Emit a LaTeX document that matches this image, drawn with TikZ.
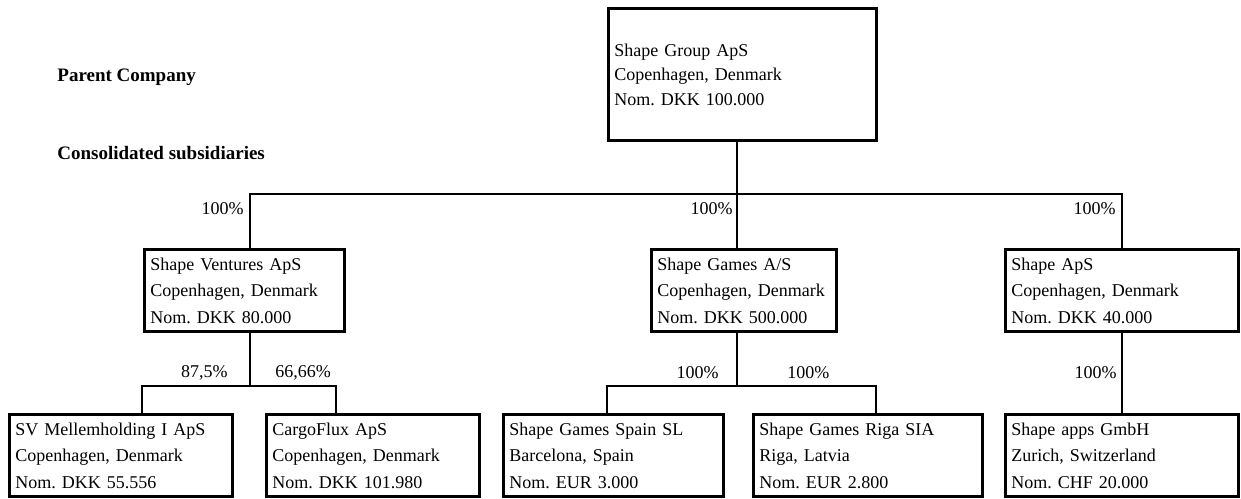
\documentclass[tikz,border=0pt]{standalone}
\usepackage{fontspec}
\setmainfont{Liberation Serif}
\usetikzlibrary{calc}
\frenchspacing

\tikzset{
    entity/.style={draw, line width=1.4pt, anchor=north west, inner xsep=3pt, inner ysep=0pt,
        text width=#1*0.5pt-6pt, minimum height=41pt, align=left,
        font=\fontsize{9}{13.25}\selectfont},
    link/.style={line width=1.4pt},
    share/.style={inner sep=0pt, font=\fontsize{9}{11}\selectfont},
    heading/.style={anchor=base west, inner sep=0pt, font=\fontsize{9.5}{11}\selectfont\bfseries}
}

\begin{document}
\begin{tikzpicture}[x=0.5pt, y=-0.5pt]
    \useasboundingbox (0,0) rectangle (1241,498);

    \coordinate (T0) at (737,194);
    \coordinate (T1) at (250,386);
    \coordinate (T2) at (737,386);
    \coordinate (D1) at (142,386);
    \coordinate (D2) at (336,386);
    \coordinate (D3) at (607,386);
    \coordinate (D4) at (876,386);

    \node[heading] (parentlbl) at (57,81) {Parent Company};
    \node[heading] (sublbl) at (57,159) {Consolidated subsidiaries};

    % parent
    \node[entity=268, minimum height=66pt, font=\fontsize{9}{12.25}\selectfont] (group) at (607,7)
        {Shape Group ApS\\Copenhagen, Denmark\\Nom. DKK 100.000};

    % subsidiaries
    \node[entity=200] (ventures) at (143,248) {Shape Ventures ApS\\Copenhagen, Denmark\\Nom. DKK 80.000};
    \node[entity=185] (games) at (650,248) {Shape Games A/S\\Copenhagen, Denmark\\Nom. DKK 500.000};
    \node[entity=233] (shapeaps) at (1004,248) {Shape ApS\\Copenhagen, Denmark\\Nom. DKK 40.000};

    \node[entity=223] (svmh) at (8,413) {SV Mellemholding I ApS\\Copenhagen, Denmark\\Nom. DKK 55.556};
    \node[entity=213] (cargo) at (265,413) {CargoFlux ApS\\Copenhagen, Denmark\\Nom. DKK 101.980};
    \node[entity=220] (spain) at (502,413) {Shape Games Spain SL\\Barcelona, Spain\\Nom. EUR 3.000};
    \node[entity=229] (riga) at (752,413) {Shape Games Riga SIA\\Riga, Latvia\\Nom. EUR 2.800};
    \node[entity=233] (apps) at (1004,413) {Shape apps GmbH\\Zurich, Switzerland\\Nom. CHF 20.000};

    \draw[link] (group.south -| T0) -- (T0);
    \draw[link] (ventures.north -| T1) |- (T0) -| (shapeaps.north);
    \draw[link] (T0) -- (games.north -| T0);
    \draw[link] (ventures.south -| T1) -- (T1);
    \draw[link] (svmh.north -| D1) -- (D1) -- (D2) -- (cargo.north -| D2);
    \draw[link] (games.south -| T2) -- (T2);
    \draw[link] (spain.north -| D3) -- (D3) -- (D4) -- (riga.north -| D4);
    \draw[link] (shapeaps.south) -- (apps.north);

    % ownership
    \node[share, anchor=east] (pct-ventures) at (244,209) {100\%};
    \node[share, anchor=east] (pct-games) at (733,209) {100\%};
    \node[share, anchor=east] (pct-shapeaps) at (1116,209) {100\%};
    \node[share, anchor=east] (pct-svmh) at (228,373) {87,5\%};
    \node[share, anchor=west] (pct-cargo) at (275,373) {66,66\%};
    \node[share, anchor=east] (pct-spain) at (719,373) {100\%};
    \node[share, anchor=west] (pct-riga) at (787,373) {100\%};
    \node[share, anchor=east] (pct-apps) at (1117,373) {100\%};
\end{tikzpicture}
\end{document}
